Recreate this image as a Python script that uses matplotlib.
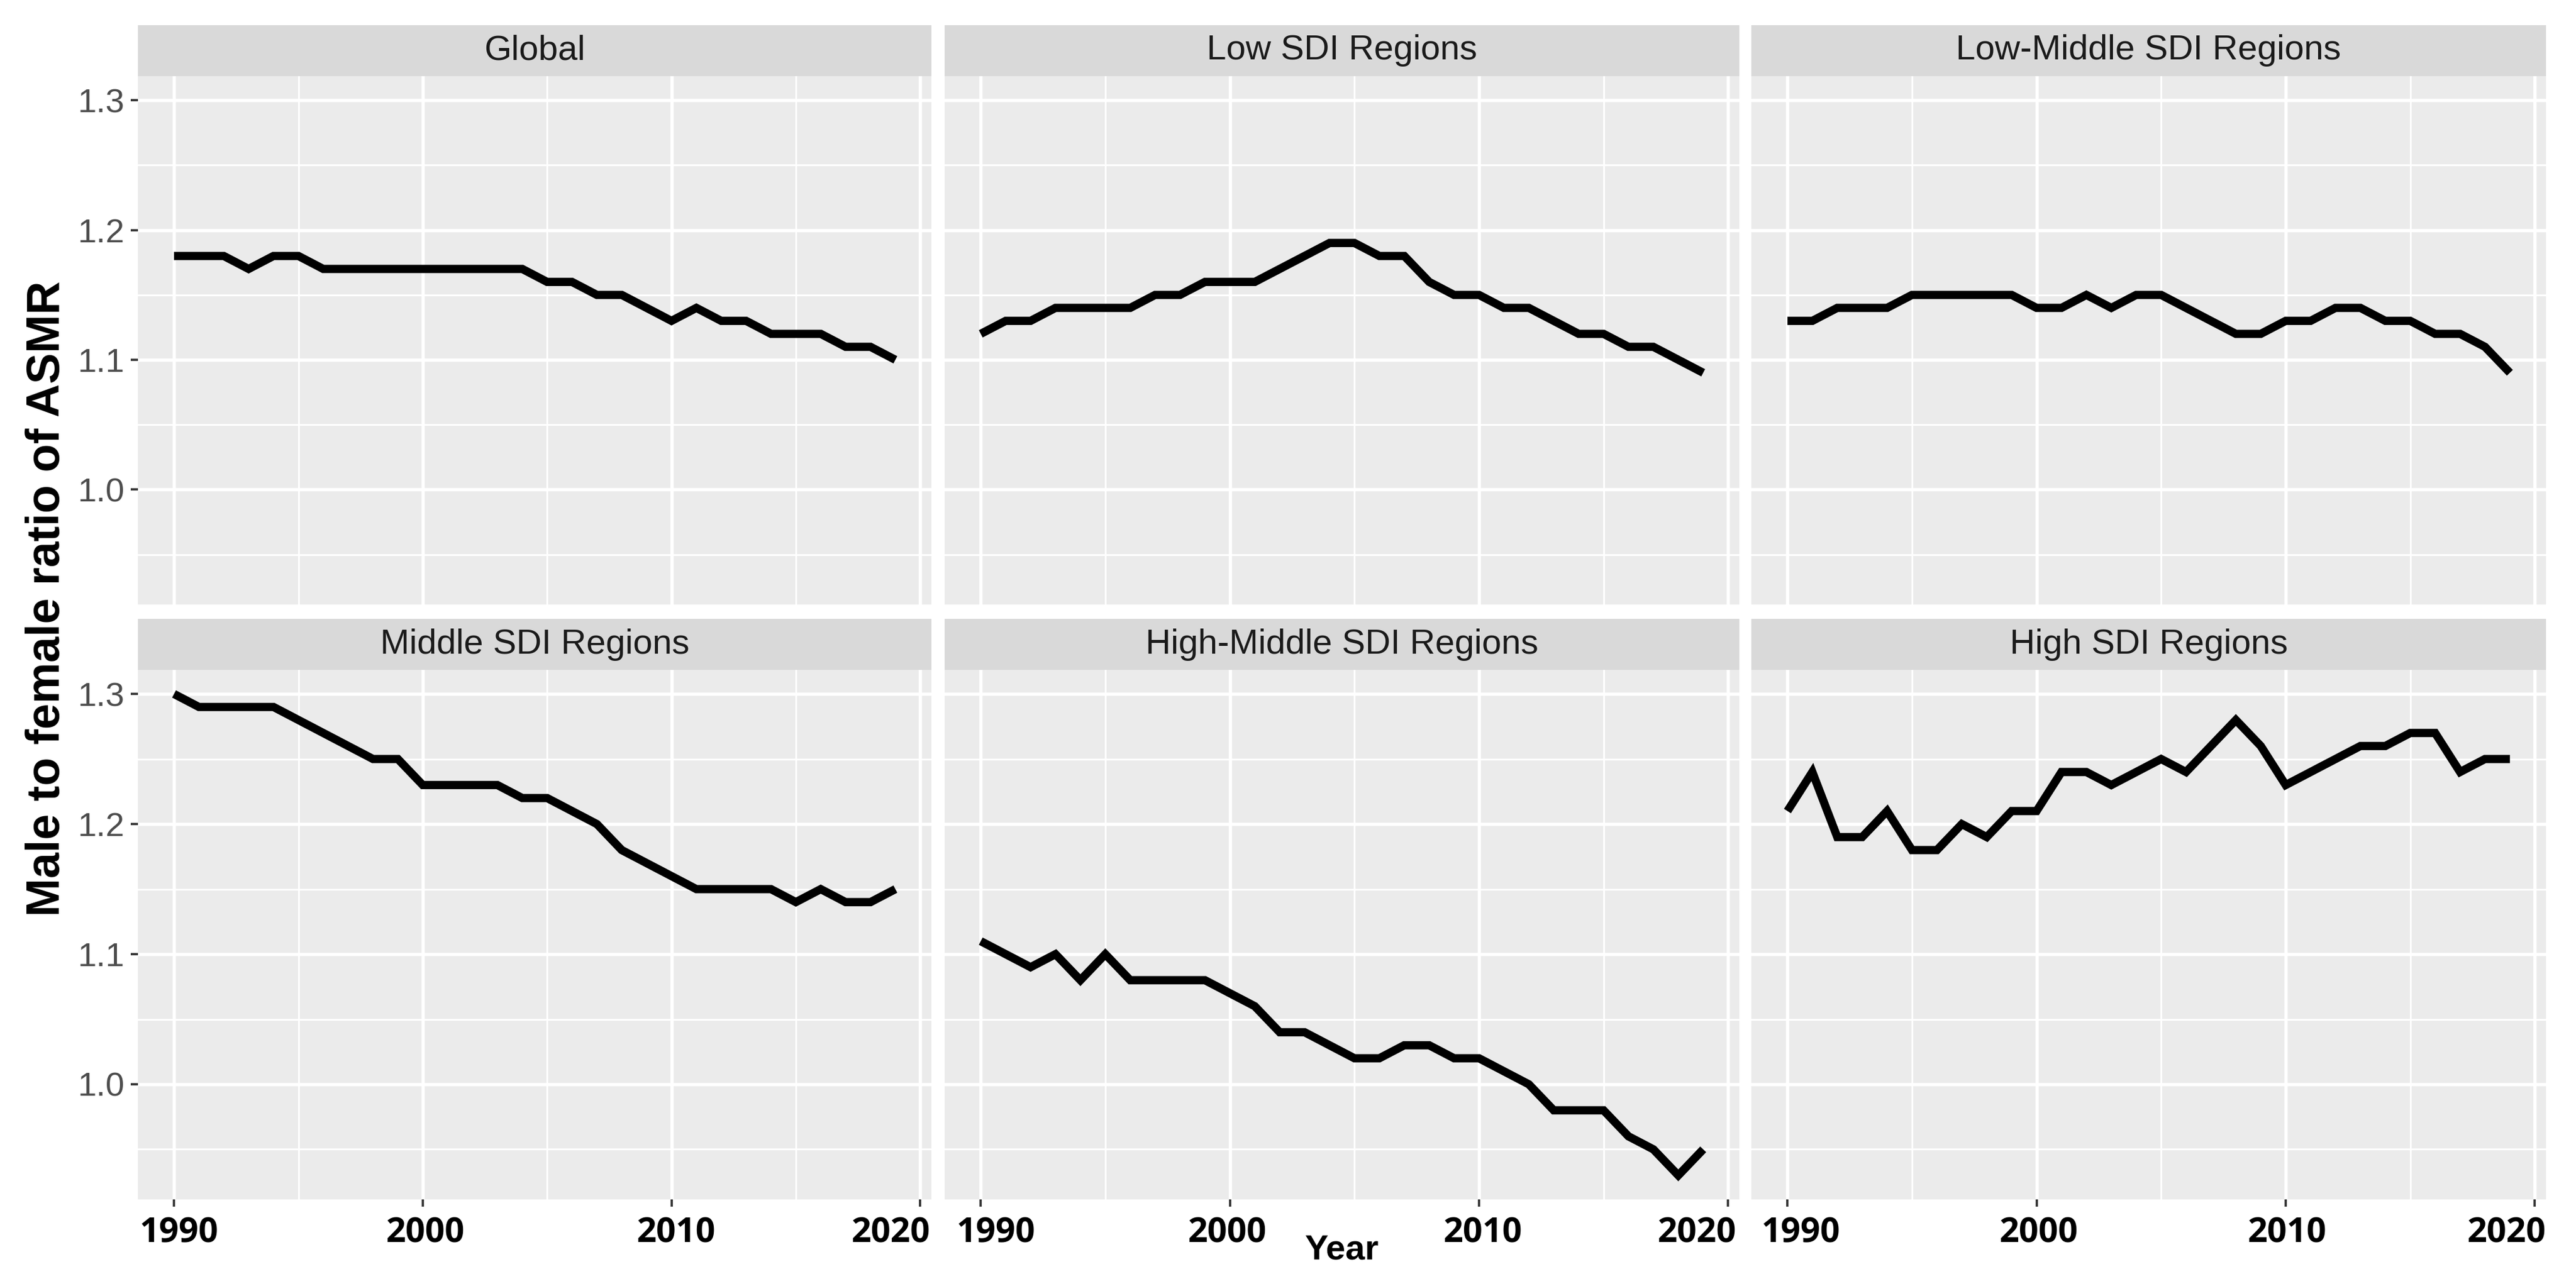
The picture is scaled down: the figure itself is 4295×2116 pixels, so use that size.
import matplotlib
matplotlib.use("Agg")
import matplotlib.pyplot as plt
from matplotlib.ticker import MultipleLocator, FormatStrFormatter

# ---- data ----
years = list(range(1990, 2020))

global_ratio = [1.18, 1.18, 1.18, 1.17, 1.18, 1.18, 1.17, 1.17, 1.17, 1.17,
                1.17, 1.17, 1.17, 1.17, 1.17, 1.16, 1.16, 1.15, 1.15, 1.14,
                1.13, 1.14, 1.13, 1.13, 1.12, 1.12, 1.12, 1.11, 1.11, 1.10]
low_sdi = [1.12, 1.13, 1.13, 1.14, 1.14, 1.14, 1.14, 1.15, 1.15, 1.16,
           1.16, 1.16, 1.17, 1.18, 1.19, 1.19, 1.18, 1.18, 1.16, 1.15,
           1.15, 1.14, 1.14, 1.13, 1.12, 1.12, 1.11, 1.11, 1.10, 1.09]
low_middle_sdi = [1.13, 1.13, 1.14, 1.14, 1.14, 1.15, 1.15, 1.15, 1.15, 1.15,
                  1.14, 1.14, 1.15, 1.14, 1.15, 1.15, 1.14, 1.13, 1.12, 1.12,
                  1.13, 1.13, 1.14, 1.14, 1.13, 1.13, 1.12, 1.12, 1.11, 1.09]
middle_sdi = [1.30, 1.29, 1.29, 1.29, 1.29, 1.28, 1.27, 1.26, 1.25, 1.25,
              1.23, 1.23, 1.23, 1.23, 1.22, 1.22, 1.21, 1.20, 1.18, 1.17,
              1.16, 1.15, 1.15, 1.15, 1.15, 1.14, 1.15, 1.14, 1.14, 1.15]
high_middle_sdi = [1.11, 1.10, 1.09, 1.10, 1.08, 1.10, 1.08, 1.08, 1.08, 1.08,
                   1.07, 1.06, 1.04, 1.04, 1.03, 1.02, 1.02, 1.03, 1.03, 1.02,
                   1.02, 1.01, 1.00, 0.98, 0.98, 0.98, 0.96, 0.95, 0.93, 0.95]
high_sdi = [1.21, 1.24, 1.19, 1.19, 1.21, 1.18, 1.18, 1.20, 1.19, 1.21,
            1.21, 1.24, 1.24, 1.23, 1.24, 1.25, 1.24, 1.26, 1.28, 1.26,
            1.23, 1.24, 1.25, 1.26, 1.26, 1.27, 1.27, 1.24, 1.25, 1.25]

panel_titles = ["Global", "Low SDI Regions", "Low-Middle SDI Regions",
                "Middle SDI Regions", "High-Middle SDI Regions", "High SDI Regions"]
panel_values = [global_ratio, low_sdi, low_middle_sdi,
                middle_sdi, high_middle_sdi, high_sdi]
x_ticks = [1990, 2000, 2010, 2020]
x_tick_labels = ["1990", "2000", "2010", "2020"]

# ---- layout (pixels of the 4295x2116 canvas) ----
W, H = 4295, 2116
col_x = [(230, 1553), (1575, 2900), (2920, 4245)]
row_y = [(41.5, 127, 1008), (1032, 1117, 2000)]  # strip top, panel top, panel bottom
# horizontal nudges (px) of the year labels so they stay inside each panel
label_nudge = [(8, 5, 8, -49), (25, -4, 7, -52), (22, 4, 3, -47)]

plt.rcParams['font.family'] = ['Liberation Sans', 'DejaVu Sans']

fig = plt.figure(figsize=(W / 300, H / 300), dpi=300)
px = 72 / 300  # one pixel in points

# shared (fixed) scales with ggplot-like 5% expansion
all_vals = [v for vals in panel_values for v in vals]
y_lo, y_hi = min(all_vals), max(all_vals)
y_pad = 0.05 * (y_hi - y_lo)
x_pad = 0.05 * (years[-1] - years[0])

for i, (title, vals) in enumerate(zip(panel_titles, panel_values)):
    r, c = divmod(i, 3)
    x0, x1 = col_x[c]
    s_top, p_top, p_bot = row_y[r]

    ax = fig.add_axes([x0 / W, 1 - p_bot / H, (x1 - x0) / W, (p_bot - p_top) / H])
    ax.set_facecolor('#EBEBEB')
    ax.plot(years, vals, color='black', lw=3.3,
            solid_joinstyle='miter', solid_capstyle='butt')
    ax.set_xlim(years[0] - x_pad, years[-1] + x_pad)
    ax.set_ylim(y_lo - y_pad, y_hi + y_pad)

    ax.set_xticks(x_ticks)
    ax.xaxis.set_minor_locator(MultipleLocator(5))
    ax.yaxis.set_major_locator(MultipleLocator(0.1))
    ax.yaxis.set_minor_locator(MultipleLocator(0.05))
    ax.yaxis.set_major_formatter(FormatStrFormatter('%.1f'))

    ax.grid(which='major', color='white', lw=1.3)
    ax.grid(which='minor', color='white', lw=0.7)
    ax.set_axisbelow(True)
    for sp in ax.spines.values():
        sp.set_visible(False)

    ax.tick_params(which='major', length=2.9, width=0.9, color='#333333')
    ax.tick_params(which='minor', length=0)
    ax.tick_params(axis='y', labelsize=13.5, labelcolor='#4D4D4D', pad=2.4)
    ax.tick_params(axis='x', labelbottom=False)

    if r == 1:
        for xt, lab, dx in zip(x_ticks, x_tick_labels, label_nudge[c]):
            ax.annotate(lab, xy=(xt, 0), xycoords=('data', 'axes fraction'),
                        xytext=(dx * px, -28 * px), textcoords='offset points',
                        ha='center', va='top', fontfamily='Open Sans',
                        fontweight='bold', fontsize=13.8, color='black',
                        annotation_clip=False)
    else:
        ax.tick_params(axis='x', bottom=False)
    if c != 0:
        ax.tick_params(axis='y', left=False, labelleft=False)

    # facet strip
    sax = fig.add_axes([x0 / W, 1 - p_top / H, (x1 - x0) / W, (p_top - s_top) / H])
    sax.set_facecolor('#D9D9D9')
    sax.set_xticks([])
    sax.set_yticks([])
    for sp in sax.spines.values():
        sp.set_visible(False)
    sax.text(0.5, 0.5, title, ha='center', va='center', fontsize=14,
             color='#1A1A1A', transform=sax.transAxes)

fig.text(2237 / W, 1 - 2084 / H, "Year", ha='center', va='center',
         fontsize=14, fontweight='bold')
fig.text(79 / W, 1 - 998 / H, "Male to female ratio of ASMR", ha='center',
         va='center', rotation=90, fontsize=18.5, fontweight='bold')

fig.savefig("out.png", dpi=300, facecolor='white')
